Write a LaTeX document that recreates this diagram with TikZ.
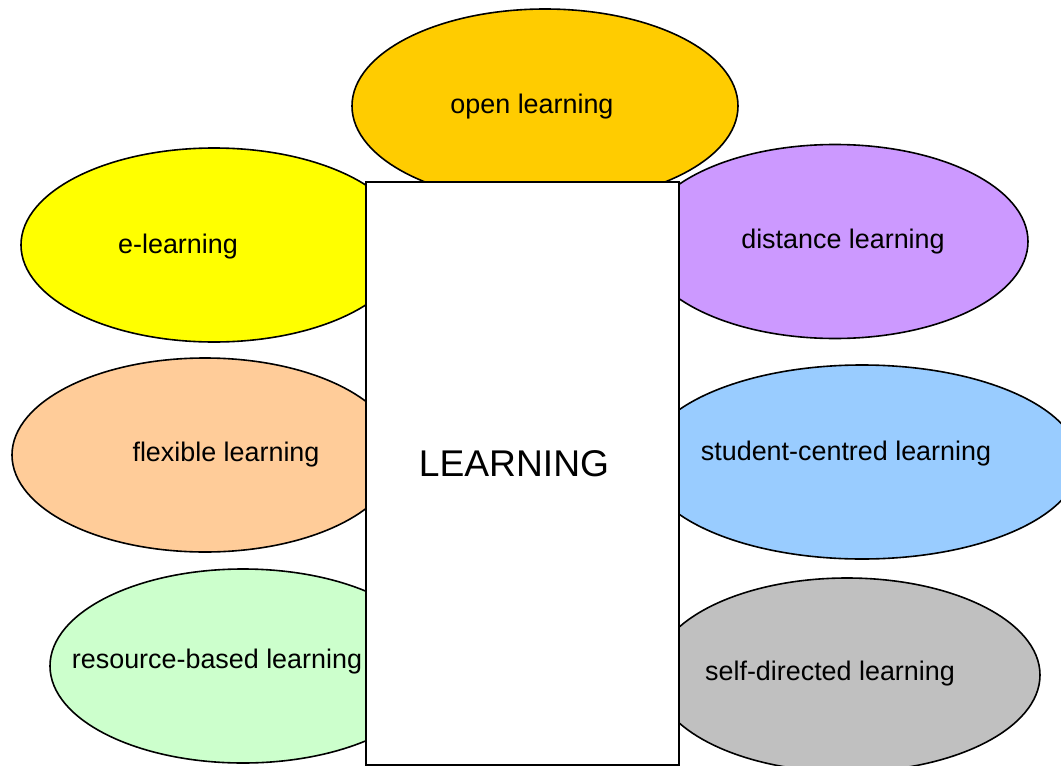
\documentclass[tikz,border=0pt]{standalone}
\usepackage{fontspec}
\setmainfont{Liberation Sans}
\usetikzlibrary{shapes.geometric}
\definecolor{openc}{HTML}{FFCC00}
\definecolor{elearnc}{HTML}{FFFF00}
\definecolor{distc}{HTML}{CC99FF}
\definecolor{flexc}{HTML}{FFCC99}
\definecolor{studc}{HTML}{99CCFF}
\definecolor{resc}{HTML}{CCFFCC}
\definecolor{selfc}{HTML}{C0C0C0}

\begin{document}
\begin{tikzpicture}[x=0.5pt,y=-0.5pt]
  \useasboundingbox (0,0) rectangle (1061,766);
  \begin{scope}[
    every node/.style={
      draw,
      ellipse,
      line width=0.8pt,
      inner sep=0pt,
      minimum height=97pt,
    },
    ]
    \foreach \n/\cx/\cy/\rx/\c in {open/545/106/193/openc,
      elearn/214/245/193/elearnc, dist/835/241.5/193/distc,
      flex/205/455/193/flexc, stud/862/462/217/studc,
      res/243/666/193/resc, self/847/675/193/selfc}{
      \node[fill=\c, minimum width=\rx pt] (\n) at (\cx,\cy) {};
    };
  \end{scope}
  \begin{scope}[every node/.style={font=\fontsize{13.45}{15}\selectfont, inner sep=0pt}]
    \foreach \n/\tx/\ty/\t in {open/532/107/open learning,
      elearn/178/247/e-learning, dist/843/242/distance learning,
      flex/226/455/flexible learning, stud/846/454/student-centred learning,
      res/217/662/resource-based learning, self/830/674/self-directed learning}{
      \node (\n-text) at (\tx,\ty) {\t};
    };
  \end{scope}
  \node[draw, fill=white, line width=0.6pt, inner sep=0pt,
    minimum width=156.5pt, minimum height=291.5pt] (learning) at (522.5,473.5) {};
  \node[font=\fontsize{18.6}{22}\selectfont, inner sep=0pt] (learning-text) at (514,464) {LEARNING};
\end{tikzpicture}
\end{document}
